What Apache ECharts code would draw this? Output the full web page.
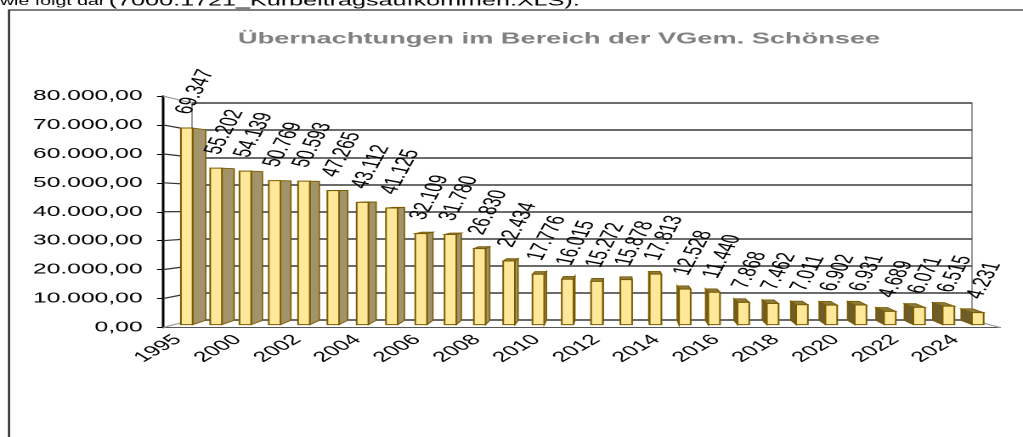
<!DOCTYPE html>
<html>
<head>
<meta charset="utf-8">
<script src="https://cdn.jsdelivr.net/npm/echarts@6/dist/echarts.min.js"></script>
<style>
  html, body { margin: 0; padding: 0; background: #fff; overflow: hidden; }
  /* the reference is stretched horizontally, so the chart is drawn narrow and widened */
  #chart { width: 602px; height: 437px; transform: scaleX(1.6993); transform-origin: 0 0; }
</style>
</head>
<body>
<div id="chart"></div>
<script>
const years = ['1995', '1999', '2000', '2001', '2002', '2003', '2004', '2005', '2006', '2007',
  '2008', '2009', '2010', '2011', '2012', '2013', '2014', '2015', '2016', '2017',
  '2018', '2019', '2020', '2021', '2022', '2023', '2024', '2025'];
const overnights = [69347, 55202, 54139, 50769, 50593, 47265, 43112, 41125, 32109, 31780,
  26830, 22434, 17776, 16015, 15272, 15878, 17813, 12528, 11440, 7868,
  7462, 7011, 6902, 6931, 4689, 6071, 6515, 4231];
const yTicks = [0, 10000, 20000, 30000, 40000, 50000, 60000, 70000, 80000];
const yTickLabels = ['0,00', '10.000,00', '20.000,00', '30.000,00', '40.000,00',
  '50.000,00', '60.000,00', '70.000,00', '80.000,00'];

const SX = 1023 / 602;
const FONT = '"Liberation Sans", Arial, sans-serif';
const EDGE = '#7a5c00';
// fake perspective: vanishing point and depth of the bars
const VX = 620 / SX, VY = 185, D_FRONT = 0.02, D_BACK = 0.05;

function fmtInt(v) {
  return String(Math.round(v)).replace(/\B(?=(\d{3})+(?!\d))/g, '.');
}

function project(x, y, d) {
  return [VX + (x - VX) * (1 - d), VY + (y - VY) * (1 - d)];
}

function renderBar(params, api) {
  const i = api.value(0);
  const v = api.value(1);
  const topPt = api.coord([i, v]);
  const basePt = api.coord([i, 0]);
  const w = api.size([1, 0])[0] * 0.4;
  const xl = topPt[0] - w / 2, xr = topPt[0] + w / 2;
  const corners = (d) => ({
    tl: project(xl, topPt[1], d), tr: project(xr, topPt[1], d),
    bl: project(xl, basePt[1], d), br: project(xr, basePt[1], d)
  });
  const f = corners(D_FRONT);
  const b = corners(D_BACK);
  const onLeft = topPt[0] < VX;
  const kids = [];

  kids.push({
    type: 'polygon',
    shape: { points: onLeft ? [f.tr, b.tr, b.br, f.br] : [f.tl, b.tl, b.bl, f.bl] },
    style: { fill: onLeft ? '#a3936a' : '#6e5d2b', stroke: EDGE, lineWidth: 0.8 }
  });
  if (topPt[1] > VY) {
    kids.push({
      type: 'polygon',
      shape: { points: [f.tl, f.tr, b.tr, b.tl] },
      style: { fill: '#8c7a3c', stroke: EDGE, lineWidth: 0.8 }
    });
  }
  kids.push({
    type: 'polygon',
    shape: { points: [f.tl, f.tr, f.br, f.bl] },
    style: { fill: '#ffe899', stroke: EDGE, lineWidth: 1 }
  });
  kids.push({
    type: 'text',
    x: (f.tl[0] + f.tr[0]) / 2 + 5,
    y: f.tl[1] - 12,
    rotation: 72 * Math.PI / 180,
    style: {
      text: fmtInt(v), x: 0, y: 0, fill: '#000',
      fontSize: 15, fontFamily: FONT, align: 'left', verticalAlign: 'bottom'
    }
  });
  return { type: 'group', children: kids };
}

const chart = echarts.init(document.getElementById('chart'), null, { devicePixelRatio: 2 });

chart.setOption({
  backgroundColor: '#fff',
  animation: false,
  title: [
    {
      text: 'Übernachtungen im Bereich der VGem. Schönsee',
      left: 324,
      top: 26,
      textAlign: 'center',
      textStyle: { fontSize: 16, fontWeight: 'bold', color: '#808080', fontFamily: FONT }
    },
    // the line of document text that the chart was cut out under
    {
      text: 'wie folgt dar',
      left: 0, top: -4, padding: 0,
      textStyle: { fontSize: 11.5, fontWeight: 'normal', color: '#000', fontFamily: FONT }
    },
    {
      text: '(7000.1721_Kurbeitragsaufkommen.XLS).',
      left: 64, top: -6, padding: 0,
      textStyle: { fontSize: 14.8, fontWeight: 'normal', color: '#000', fontFamily: FONT }
    }
  ],
  grid: [
    // front plane: axes, ticks, labels
    { left: 95.9, right: 13.5, top: 96, bottom: 109.5 },
    // back wall with the gridlines
    { left: 113, right: 30, top: 103, bottom: 117, show: true, borderColor: '#999', borderWidth: 1 }
  ],
  xAxis: [
    {
      type: 'category',
      gridIndex: 0,
      data: years,
      boundaryGap: true,
      axisLine: { lineStyle: { color: '#555', width: 1 } },
      axisTick: { interval: 0, length: 4.5, lineStyle: { color: '#333' } },
      axisLabel: {
        interval: 1, rotate: 44, margin: 10, color: '#000',
        fontSize: 14.5, fontFamily: FONT
      },
      splitLine: { show: false }
    },
    { type: 'value', gridIndex: 1, min: 0, max: 1, show: false }
  ],
  yAxis: [
    {
      type: 'value',
      gridIndex: 0,
      min: 0, max: 80000, interval: 10000,
      axisLine: { show: true, lineStyle: { color: '#000', width: 1.5 } },
      axisTick: { show: true, length: 3.5, lineStyle: { color: '#000' } },
      axisLabel: {
        margin: 12, color: '#000', fontSize: 14.5, fontFamily: FONT,
        formatter: (val) => yTickLabels[yTicks.indexOf(val)]
      },
      splitLine: { show: false }
    },
    {
      type: 'value',
      gridIndex: 1,
      min: 0, max: 80000, interval: 10000,
      axisLine: { show: false },
      axisTick: { show: false },
      axisLabel: { show: false },
      splitLine: { show: true, lineStyle: { color: '#3a3a3a', width: 1.6 } }
    }
  ],
  series: [{
    type: 'custom',
    xAxisIndex: 0,
    yAxisIndex: 0,
    data: overnights.map((v, i) => [i, v]),
    encode: { x: 0, y: 1 },
    renderItem: renderBar,
    clip: false,
    z: 3
  }]
});

// side wall, floor edge and the frame
const x0 = chart.convertToPixel({ xAxisIndex: 0 }, 0);
const x1 = chart.convertToPixel({ xAxisIndex: 0 }, 1);
const bin = x1 - x0;
const frontLeft = x0 - bin / 2;
const frontRight = chart.convertToPixel({ xAxisIndex: 0 }, years.length - 1) + bin / 2;
const backLeft = chart.convertToPixel({ xAxisIndex: 1 }, 0);
const backRight = chart.convertToPixel({ xAxisIndex: 1 }, 1);

const wallLines = yTicks.map((t, k) => ({
  type: 'line',
  z: 1,
  shape: {
    x1: frontLeft, y1: chart.convertToPixel({ yAxisIndex: 0 }, t),
    x2: backLeft, y2: chart.convertToPixel({ yAxisIndex: 1 }, t)
  },
  style: { stroke: (k === 0 || k === yTicks.length - 1) ? '#999' : '#333', lineWidth: 1.2 }
}));

chart.setOption({
  graphic: [
    ...wallLines,
    {
      type: 'line', z: 1,
      shape: {
        x1: backRight, y1: chart.convertToPixel({ yAxisIndex: 1 }, 0),
        x2: frontRight, y2: chart.convertToPixel({ yAxisIndex: 0 }, 0)
      },
      style: { stroke: '#999', lineWidth: 1.2 }
    },
    {
      type: 'polyline', z: 1,
      shape: { points: [[5.3, 440], [5.3, 10], [610, 10]] },
      style: { stroke: '#000', lineWidth: 1, fill: null }
    }
  ]
});
</script>
</body>
</html>
